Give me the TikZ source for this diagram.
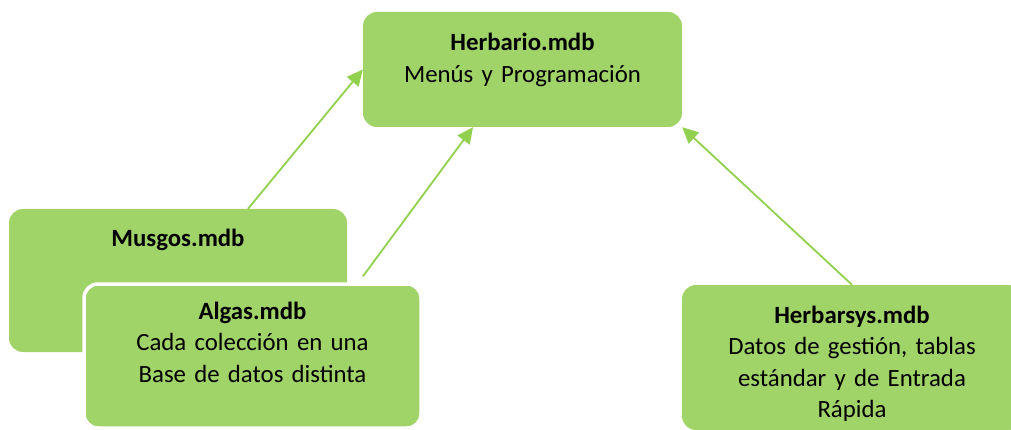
\documentclass[tikz,border=0pt]{standalone}
\usepackage{fontspec}
\setmainfont[WordSpace=0.85]{Carlito}
\usetikzlibrary{arrows.meta,calc}
\definecolor{boxgreen}{RGB}{161,212,104}
\definecolor{arrowgreen}{RGB}{146,208,80}
\tikzset{
  box/.style={fill=boxgreen, draw=none, rounded corners=14pt, inner sep=0pt},
  lbl/.style={anchor=north, inner sep=0pt, align=center, text width=#1,
    font=\fontsize{24.8}{31.5}\selectfont},
  conn/.style={draw=arrowgreen, line width=1.8pt,
    -{Triangle[length=16pt,width=15pt]}},
}
\newcommand{\fst}{\rule{0pt}{20pt}}
\begin{document}
\begin{tikzpicture}[x=1pt,y=-1pt]
\useasboundingbox (0,0) rectangle (1011,430);
\clip (0,0) rectangle (1011,430);
% boxes
\node[box, minimum width=319pt, minimum height=115pt] (herb) at (522.5,69.5) {};
\node[box, minimum width=338pt, minimum height=143pt] (musgos) at (178,280.5) {};
\node[box, draw=white, line width=3.5pt, minimum width=337pt, minimum height=144pt] (algas) at (252.5,356) {};
\node[box, minimum width=340pt, minimum height=145pt] (hsys) at (852,357.5) {};
% texts
\node[lbl=315pt] (herbt) at ([yshift=-19pt]herb.north) {\fst\textbf{Herbario.mdb}\\Menús y Programación};
\node[lbl=330pt] (musgost) at ([yshift=-18pt]musgos.north) {\fst\textbf{Musgos.mdb}};
\node[lbl=330pt] (algast) at ([yshift=-17pt]algas.north) {\fst\textbf{Algas.mdb}\\Cada colección en una\\Base de datos distinta};
\node[lbl=330pt] (hsyst) at ([yshift=-18pt]hsys.north) {\fst\textbf{Herbarsys.mdb}\\Datos de gestión, tablas\\estándar y de Entrada\\Rápida};
% connectors
\draw[conn] ([xshift=70pt]musgos.north) -- (herb.west);
\draw[conn] ([xshift=110.5pt,yshift=6pt]algas.north) -- ([xshift=-49.5pt]herb.south);
\draw[conn] (hsys.north) -- (herb.south east);
\end{tikzpicture}
\end{document}
